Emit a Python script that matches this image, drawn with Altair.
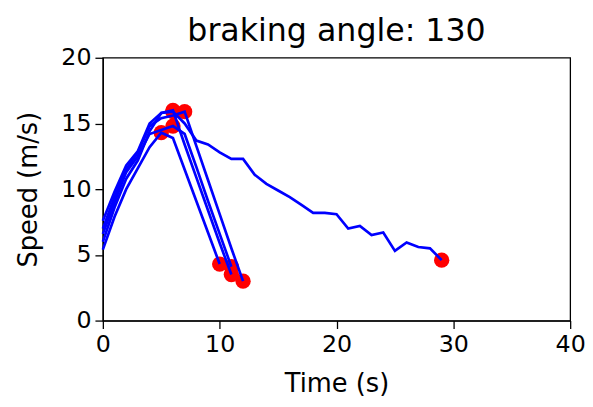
import altair as alt
import pandas as pd

# Speed traces (m/s), sampled once per second starting at t = 0
run_1 = [5.4, 7.9, 10.0, 11.6, 13.2, 14.3, 13.9, 11.5, 9.1, 6.7, 4.3]
run_2 = [6.0, 8.6, 10.8, 12.2, 14.4, 15.8, 16.0, 13.4, 10.9, 8.4, 5.9, 3.5]
run_3 = [6.6, 9.0, 11.3, 12.5, 14.2, 14.5, 14.8, 14.2, 11.7, 9.1, 6.6, 4.1]
run_4 = [7.0, 9.4, 11.5, 12.8, 14.8, 15.4, 15.6, 15.9, 13.3, 10.7, 8.1, 5.5, 3.0]
run_5 = [7.6, 9.8, 11.8, 12.9, 15.0, 15.8, 15.9, 15.0, 13.7, 13.4, 12.8, 12.3,
         12.3, 11.1, 10.4, 9.9, 9.4, 8.8, 8.2, 8.2, 8.1, 7.0, 7.2, 6.5, 6.7,
         5.3, 5.95, 5.6, 5.5, 4.6]

runs = {"run 1": run_1, "run 2": run_2, "run 3": run_3, "run 4": run_4, "run 5": run_5}

rows = []
marks = []
for name, speeds in runs.items():
    for t, v in enumerate(speeds):
        rows.append({"run": name, "t": t, "v": v})
    i_max = max(range(len(speeds)), key=lambda i: speeds[i])
    marks.append({"run": name, "t": i_max, "v": speeds[i_max]})
    marks.append({"run": name, "t": len(speeds) - 1, "v": speeds[-1]})

df = pd.DataFrame(rows)
dots = pd.DataFrame(marks)

x_enc = alt.X("t:Q", scale=alt.Scale(domain=[0, 40], nice=False),
              axis=alt.Axis(values=[0, 10, 20, 30, 40], title="Time (s)"))
y_enc = alt.Y("v:Q", scale=alt.Scale(domain=[0, 20], nice=False),
              axis=alt.Axis(values=[0, 5, 10, 15, 20], title="Speed (m/s)"))

points = alt.Chart(dots).mark_circle(color="#ff0000", opacity=1, size=240).encode(
    x=x_enc, y=y_enc
)
lines = alt.Chart(df).mark_line(color="#0000ff", strokeWidth=2.7).encode(
    x=x_enc, y=y_enc, detail="run:N", order="t:Q"
)

chart = (
    alt.layer(points, lines)
    .properties(
        width=473,
        height=266,
        title=alt.TitleParams("braking angle: 130", fontSize=32, font="DejaVu Sans",
                              fontWeight="normal", color="black", offset=-2),
        autosize=alt.AutoSizeParams(type="none"),
        padding={"left": 96, "top": 48, "right": 15, "bottom": 77},
    )
    .configure_view(stroke="black", strokeWidth=1.3)
    .configure_axis(
        grid=False, labelFlush=False,
        domainColor="black", domainWidth=1.3,
        tickColor="black", tickSize=8, tickWidth=1.3,
        labelColor="black", labelFont="DejaVu Sans", labelFontSize=24, labelPadding=4,
        titleColor="black", titleFont="DejaVu Sans", titleFontSize=26,
        titleFontWeight="normal",
    )
    .configure_axisX(titlePadding=15)
    .configure_axisY(titlePadding=20)
)

chart.save("out.html", embed_options={"renderer": "svg", "actions": False})
